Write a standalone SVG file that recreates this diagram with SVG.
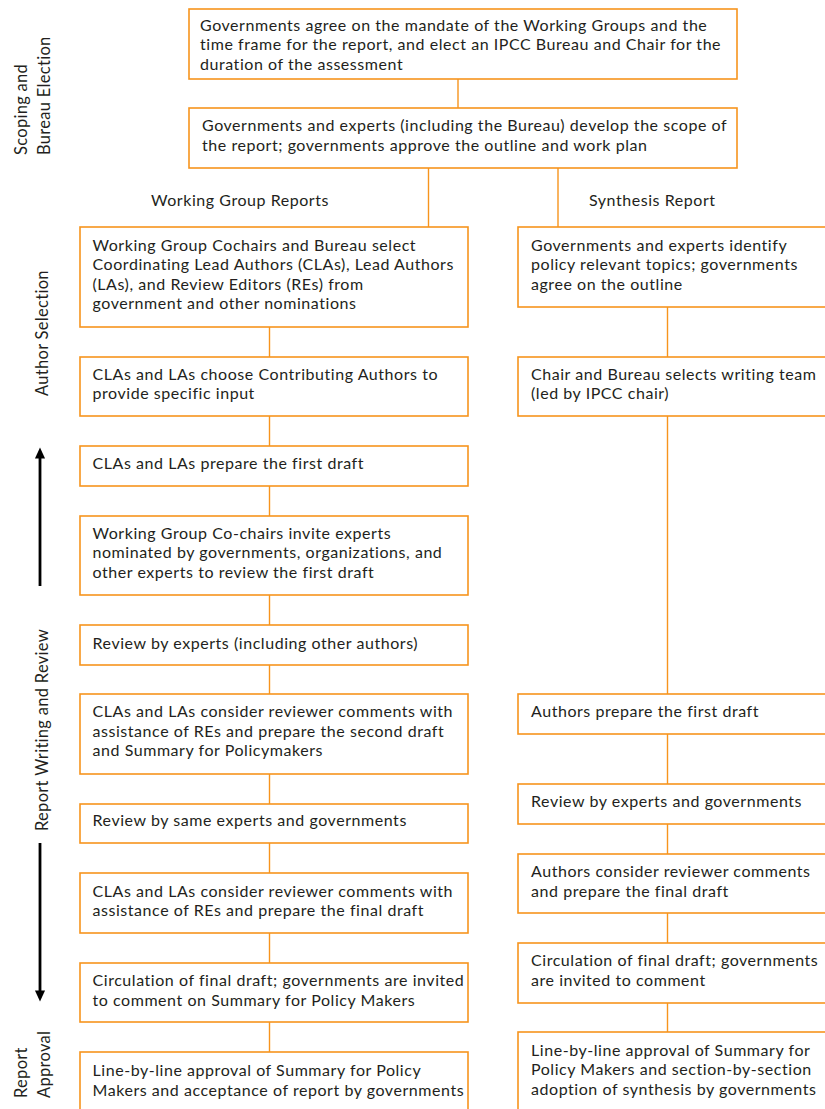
<svg xmlns="http://www.w3.org/2000/svg" width="825" height="1109" viewBox="0 0 825 1109">
<style>
.box{fill:#fff;stroke:#F7941D;stroke-width:1.6}
.t{font-family:Lato,"Open Sans","Liberation Sans",sans-serif;font-size:16px;letter-spacing:0.55px;fill:#231F20}
.side{font-family:Lato,"Open Sans","Liberation Sans",sans-serif;font-size:16.5px;letter-spacing:0.3px;fill:#231F20}
.c{stroke:#F7941D;stroke-width:1.4;fill:none}
.ar{stroke:#000;stroke-width:2.8;fill:none}
</style>
<defs>
<marker id="ah" markerWidth="4" markerHeight="4.4" refX="2" refY="2.2" orient="auto" markerUnits="strokeWidth">
<path d="M0,0.4 L4,2.2 L0,4 Z" fill="#000"/>
</marker>
</defs>
<rect width="825" height="1109" fill="#fff"/>
<g id="connectors">
<line class="c" x1="458" y1="79" x2="458" y2="108"/>
<line class="c" x1="428.5" y1="168" x2="428.5" y2="227"/>
<line class="c" x1="558" y1="168" x2="558" y2="227"/>
<line class="c" x1="269.5" y1="327" x2="269.5" y2="357"/>
<line class="c" x1="269.5" y1="416" x2="269.5" y2="446"/>
<line class="c" x1="269.5" y1="486" x2="269.5" y2="516"/>
<line class="c" x1="269.5" y1="595" x2="269.5" y2="625"/>
<line class="c" x1="269.5" y1="665" x2="269.5" y2="694"/>
<line class="c" x1="269.5" y1="774" x2="269.5" y2="804"/>
<line class="c" x1="269.5" y1="843" x2="269.5" y2="873"/>
<line class="c" x1="269.5" y1="933" x2="269.5" y2="963"/>
<line class="c" x1="269.5" y1="1022" x2="269.5" y2="1052"/>
<line class="c" x1="667.5" y1="307" x2="667.5" y2="357"/>
<line class="c" x1="667.5" y1="416" x2="667.5" y2="694"/>
<line class="c" x1="667.5" y1="734" x2="667.5" y2="784"/>
<line class="c" x1="667.5" y1="824" x2="667.5" y2="854"/>
<line class="c" x1="667.5" y1="913" x2="667.5" y2="943"/>
<line class="c" x1="667.5" y1="1003" x2="667.5" y2="1032"/>
</g>
<g id="side-labels">
<text class="side" transform="rotate(-90)"><tspan x="-155" y="27">Scoping and</tspan><tspan x="-155" y="50">Bureau Election</tspan></text>
<text class="side" transform="translate(48,396) rotate(-90)">Author Selection</text>
<text class="side" transform="translate(48,831) rotate(-90)">Report Writing and Review</text>
<text class="side" transform="rotate(-90)"><tspan x="-1098" y="27">Report</tspan><tspan x="-1098" y="50">Approval</tspan></text>
<line class="ar" x1="40" y1="586" x2="40" y2="453" marker-end="url(#ah)"/>
<line class="ar" x1="40" y1="843" x2="40" y2="996" marker-end="url(#ah)"/>
</g>
<g id="headers">
<text class="t" x="151" y="206">Working Group Reports</text>
<text class="t" x="589" y="206">Synthesis Report</text>
</g>
<g id="n1">
<rect class="box" x="189" y="9" width="548" height="70"/>
<text class="t"><tspan x="200" y="30.5">Governments agree on the mandate of the Working Groups and the</tspan><tspan x="200" y="50">time frame for the report, and elect an IPCC Bureau and Chair for the</tspan><tspan x="200" y="69.5">duration of the assessment</tspan></text>
</g>
<g id="n2">
<rect class="box" x="189" y="108" width="548" height="60"/>
<text class="t"><tspan x="202" y="131">Governments and experts (including the Bureau) develop the scope of</tspan><tspan x="202" y="150.5">the report; governments approve the outline and work plan</tspan></text>
</g>
<g id="wg1">
<rect class="box" x="80" y="227" width="388" height="100"/>
<text class="t"><tspan x="92.5" y="250.5">Working Group Cochairs and Bureau select</tspan><tspan x="92.5" y="270">Coordinating Lead Authors (CLAs), Lead Authors</tspan><tspan x="92.5" y="289.5">(LAs), and Review Editors (REs) from</tspan><tspan x="92.5" y="309">government and other nominations</tspan></text>
</g>
<g id="wg2">
<rect class="box" x="80" y="357" width="388" height="59"/>
<text class="t"><tspan x="92.5" y="379.5">CLAs and LAs choose Contributing Authors to</tspan><tspan x="92.5" y="399">provide specific input</tspan></text>
</g>
<g id="wg3">
<rect class="box" x="80" y="446" width="388" height="40"/>
<text class="t" x="92.5" y="469">CLAs and LAs prepare the first draft</text>
</g>
<g id="wg4">
<rect class="box" x="80" y="516" width="388" height="79"/>
<text class="t"><tspan x="92.5" y="538.5">Working Group Co-chairs invite experts</tspan><tspan x="92.5" y="558">nominated by governments, organizations, and</tspan><tspan x="92.5" y="577.5">other experts to review the first draft</tspan></text>
</g>
<g id="wg5">
<rect class="box" x="80" y="625" width="388" height="40"/>
<text class="t" x="92.5" y="648.5">Review by experts (including other authors)</text>
</g>
<g id="wg6">
<rect class="box" x="80" y="694" width="388" height="80"/>
<text class="t"><tspan x="92.5" y="717">CLAs and LAs consider reviewer comments with</tspan><tspan x="92.5" y="736.5">assistance of REs and prepare the second draft</tspan><tspan x="92.5" y="756">and Summary for Policymakers</tspan></text>
</g>
<g id="wg7">
<rect class="box" x="80" y="804" width="388" height="39"/>
<text class="t" x="92.5" y="826">Review by same experts and governments</text>
</g>
<g id="wg8">
<rect class="box" x="80" y="873" width="388" height="60"/>
<text class="t"><tspan x="92.5" y="896.5">CLAs and LAs consider reviewer comments with</tspan><tspan x="92.5" y="916">assistance of REs and prepare the final draft</tspan></text>
</g>
<g id="wg9">
<rect class="box" x="80" y="963" width="388" height="59"/>
<text class="t"><tspan x="92.5" y="986">Circulation of final draft; governments are invited</tspan><tspan x="92.5" y="1005.5">to comment on Summary for Policy Makers</tspan></text>
</g>
<g id="wg10">
<rect class="box" x="80" y="1052" width="388" height="62"/>
<text class="t"><tspan x="92.5" y="1076">Line-by-line approval of Summary for Policy</tspan><tspan x="92.5" y="1095.5">Makers and acceptance of report by governments</tspan></text>
</g>
<g id="sr1">
<rect class="box" x="518" y="227" width="312" height="80"/>
<text class="t"><tspan x="531" y="250.5">Governments and experts identify</tspan><tspan x="531" y="270">policy relevant topics; governments</tspan><tspan x="531" y="289.5">agree on the outline</tspan></text>
</g>
<g id="sr2">
<rect class="box" x="518" y="357" width="312" height="59"/>
<text class="t"><tspan x="531" y="379.5">Chair and Bureau selects writing team</tspan><tspan x="531" y="399">(led by IPCC chair)</tspan></text>
</g>
<g id="sr3">
<rect class="box" x="518" y="694" width="312" height="40"/>
<text class="t" x="531" y="717">Authors prepare the first draft</text>
</g>
<g id="sr4">
<rect class="box" x="518" y="784" width="312" height="40"/>
<text class="t" x="531" y="807">Review by experts and governments</text>
</g>
<g id="sr5">
<rect class="box" x="518" y="854" width="312" height="59"/>
<text class="t"><tspan x="531" y="877">Authors consider reviewer comments</tspan><tspan x="531" y="896.5">and prepare the final draft</tspan></text>
</g>
<g id="sr6">
<rect class="box" x="518" y="943" width="312" height="60"/>
<text class="t"><tspan x="531" y="966">Circulation of final draft; governments</tspan><tspan x="531" y="985.5">are invited to comment</tspan></text>
</g>
<g id="sr7">
<rect class="box" x="518" y="1032" width="312" height="82"/>
<text class="t"><tspan x="531" y="1055.5">Line-by-line approval of Summary for</tspan><tspan x="531" y="1075">Policy Makers and section-by-section</tspan><tspan x="531" y="1094.5">adoption of synthesis by governments</tspan></text>
</g>
</svg>
